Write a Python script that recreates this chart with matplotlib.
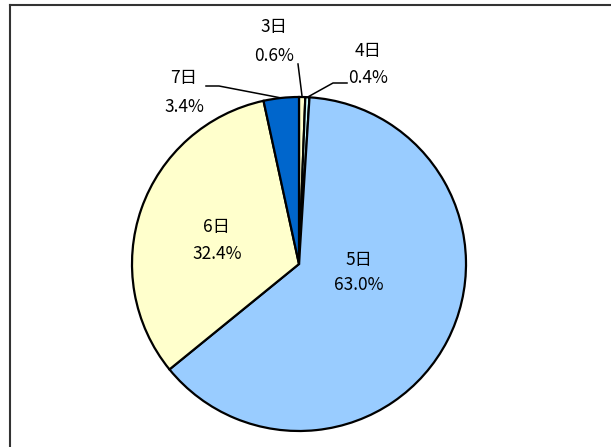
import numpy as np
import matplotlib.pyplot as plt
from matplotlib.lines import Line2D

plt.rcParams['font.family'] = ['Noto Sans CJK JP', 'DejaVu Sans']

labels = ['3日', '4日', '5日', '6日', '7日']
shares = [0.6, 0.4, 63.0, 32.4, 3.4]
colors = ['#FFFFCC', '#CCFFFF', '#99CCFF', '#FFFFCC', '#0066CC']

W, H = 611, 447
cx, cy, R = 299, H - 264, 167

# label text centers (pixels, y down) for name / percent
text_pos = {
    '3日': (274, 27, 56),
    '4日': (368, 51, 78),
    '5日': (359, 260, 285),
    '6日': (217, 227, 254),
    '7日': (184, 78, 107),
}
# leader lines: elbow points (pixels, y down) for outside labels
leaders = {
    '3日': [(298, 64)],
    '4日': [(347, 83), (333, 83)],
    '7日': [(206, 86), (219, 86)],
}

fig = plt.figure(figsize=(W / 100, H / 100), dpi=100)
ax = fig.add_axes([0, 0, 1, 1])

wedges, _ = ax.pie(shares, colors=colors, startangle=90, counterclock=False,
                   center=(cx, cy), radius=R,
                   wedgeprops=dict(edgecolor='black', linewidth=1.6))
ax.set_xlim(0, W)
ax.set_ylim(0, H)
ax.set_aspect('equal')
ax.axis('off')

for w, lab, p in zip(wedges, labels, shares):
    x, y1, y2 = text_pos[lab]
    ax.text(x, H - y1, lab, ha='center', va='center', fontsize=12.5)
    ax.text(x, H - y2, f'{p:.1f}%', ha='center', va='center', fontsize=12.5)
    if lab in leaders:
        mid = np.deg2rad((w.theta1 + w.theta2) / 2)
        px, py = cx + R * np.cos(mid), cy + R * np.sin(mid)
        pts = [(a, H - b) for a, b in leaders[lab]] + [(px, py)]
        xs, ys = zip(*pts)
        ax.plot(xs, ys, color='black', linewidth=1.1)

# chart frame (cropped at right and bottom)
fig.add_artist(Line2D([10 / W, 1], [1 - 5 / H, 1 - 5 / H], color='#333333', linewidth=1.5))
fig.add_artist(Line2D([10 / W, 10 / W], [0, 1 - 5 / H], color='#333333', linewidth=1.5))

fig.savefig('out.png', dpi=100)
